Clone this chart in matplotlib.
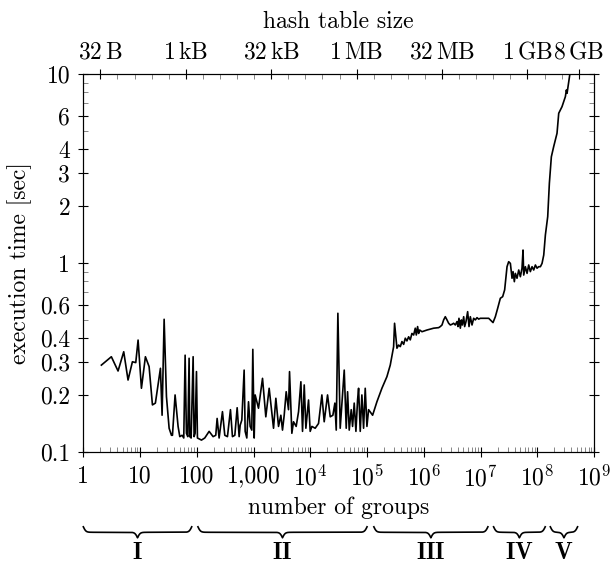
import matplotlib
matplotlib.use("Agg")
import matplotlib.pyplot as plt
import matplotlib.transforms as mtransforms
from matplotlib.ticker import FixedLocator, NullFormatter, LogLocator
import numpy as np

plt.rcParams['font.family'] = 'cmr10'
plt.rcParams['mathtext.fontset'] = 'cm'
plt.rcParams['axes.formatter.use_mathtext'] = True
plt.rcParams['font.size'] = 17

# measured curve: log10(number of groups) and execution time in seconds
log_groups = [
    0.318, 0.494, 0.612, 0.712, 0.788, 0.865, 0.924, 0.965, 1.024, 1.094,
    1.159, 1.218, 1.270, 1.359, 1.388, 1.424, 1.465, 1.512, 1.553, 1.571,
    1.617, 1.670, 1.700, 1.741, 1.770, 1.794, 1.817, 1.841, 1.864, 1.876,
    1.900, 1.935, 1.952, 1.970, 1.994, 2.011, 2.082, 2.140, 2.217, 2.287,
    2.334, 2.358, 2.393, 2.452, 2.493, 2.540, 2.593, 2.628, 2.670, 2.711,
    2.746, 2.764, 2.793, 2.834, 2.852, 2.881, 2.911, 2.940, 2.969, 2.987,
    3.011, 3.028, 3.087, 3.158, 3.216, 3.275, 3.352, 3.393, 3.440, 3.481,
    3.510, 3.540, 3.575, 3.616, 3.634, 3.675, 3.704, 3.751, 3.793, 3.834,
    3.863, 3.893, 3.922, 3.969, 3.998, 4.028, 4.086, 4.145, 4.204, 4.245,
    4.304, 4.351, 4.398, 4.433, 4.457, 4.486, 4.527, 4.557, 4.598, 4.633,
    4.657, 4.686, 4.721, 4.745, 4.774, 4.804, 4.833, 4.851, 4.880, 4.909,
    4.939, 4.968, 4.998, 5.027, 5.098, 5.174, 5.262, 5.350, 5.409, 5.468,
    5.485, 5.527, 5.556, 5.586, 5.615, 5.645, 5.674, 5.703, 5.733, 5.762,
    5.791, 5.821, 5.850, 5.868, 5.891, 5.909, 5.927, 5.968, 6.056, 6.174,
    6.262, 6.291, 6.321, 6.350, 6.379, 6.409, 6.438, 6.468, 6.497, 6.526,
    6.556, 6.585, 6.603, 6.620, 6.644, 6.662, 6.679, 6.703, 6.720, 6.744,
    6.773, 6.797, 6.820, 6.850, 6.879, 6.908, 6.938, 6.967, 6.997, 7.144,
    7.220, 7.261, 7.302, 7.349, 7.390, 7.425, 7.467, 7.496, 7.526, 7.555,
    7.573, 7.596, 7.614, 7.643, 7.673, 7.702, 7.731, 7.749, 7.761, 7.790,
    7.820, 7.849, 7.878, 7.908, 7.937, 7.967, 7.996, 8.025, 8.055, 8.084,
    8.114, 8.143, 8.184, 8.213, 8.248, 8.289, 8.348, 8.378, 8.407, 8.436,
    8.466, 8.495, 8.513, 8.525, 8.554, 8.572, 8.590,
]
exec_time = [
    0.289, 0.320, 0.269, 0.340, 0.241, 0.301, 0.298, 0.392, 0.218, 0.320,
    0.284, 0.178, 0.182, 0.278, 0.157, 0.505, 0.197, 0.134, 0.123, 0.123,
    0.201, 0.137, 0.121, 0.123, 0.119, 0.326, 0.126, 0.121, 0.314, 0.121,
    0.119, 0.320, 0.121, 0.126, 0.267, 0.119, 0.116, 0.119, 0.129, 0.121,
    0.123, 0.151, 0.119, 0.164, 0.123, 0.121, 0.168, 0.121, 0.123, 0.172,
    0.121, 0.139, 0.148, 0.272, 0.129, 0.119, 0.185, 0.137, 0.131, 0.350,
    0.119, 0.201, 0.171, 0.246, 0.154, 0.218, 0.134, 0.193, 0.137, 0.157,
    0.131, 0.157, 0.209, 0.168, 0.267, 0.126, 0.145, 0.137, 0.164, 0.236,
    0.129, 0.227, 0.134, 0.189, 0.129, 0.137, 0.134, 0.142, 0.201, 0.145,
    0.201, 0.154, 0.157, 0.182, 0.131, 0.543, 0.134, 0.182, 0.272, 0.134,
    0.209, 0.131, 0.168, 0.137, 0.182, 0.129, 0.189, 0.218, 0.129, 0.201,
    0.134, 0.218, 0.137, 0.168, 0.157, 0.185, 0.218, 0.251, 0.289, 0.361,
    0.481, 0.355, 0.369, 0.362, 0.385, 0.372, 0.401, 0.388, 0.408, 0.393,
    0.425, 0.417, 0.453, 0.417, 0.462, 0.425, 0.443, 0.434, 0.443, 0.453,
    0.456, 0.462, 0.471, 0.501, 0.521, 0.501, 0.481, 0.471, 0.475, 0.481,
    0.471, 0.491, 0.462, 0.511, 0.453, 0.501, 0.471, 0.521, 0.462, 0.491,
    0.554, 0.462, 0.521, 0.471, 0.511, 0.501, 0.515, 0.506, 0.511, 0.511,
    0.485, 0.521, 0.577, 0.652, 0.665, 0.722, 0.958, 1.018, 0.997, 0.832,
    0.902, 0.798, 0.883, 0.832, 0.920, 0.848, 0.940, 1.173, 0.865, 0.958,
    0.883, 0.978, 0.902, 0.958, 0.920, 0.978, 0.940, 0.958, 0.958, 0.997,
    1.104, 1.41, 1.762, 2.64, 3.65, 4.13, 4.86, 6.20, 6.45, 6.72,
    7.14, 7.59, 8.23, 7.91, 9.10, 9.88, 10.5,
]

x_ticks = [1, 10, 100, 1000, 1e4, 1e5, 1e6, 1e7, 1e8, 1e9]
x_ticklabels = ['1', '10', '100', '1,000', r'$10^{4}$', r'$10^{5}$',
                r'$10^{6}$', r'$10^{7}$', r'$10^{8}$', r'$10^{9}$']
y_ticks = [0.1, 0.2, 0.3, 0.4, 0.6, 1, 2, 3, 4, 6, 10]
y_ticklabels = ['0.1', '0.2', '0.3', '0.4', '0.6', '1', '2', '3', '4', '6', '10']
y_minor = [0.5, 0.7, 0.8, 0.9, 5, 7, 8, 9]

bytes_per_group = 16
hash_bytes = [32, 2**10, 2**15, 2**20, 2**25, 2**30, 2**33]
hash_labels = [r'$32\,\mathrm{B}$', r'$1\,\mathrm{kB}$', r'$32\,\mathrm{kB}$',
               r'$1\,\mathrm{MB}$', r'$32\,\mathrm{MB}$', r'$1\,\mathrm{GB}$',
               r'$8\,\mathrm{GB}$']

# phases (log10 of number of groups)
phase_names = ['I', 'II', 'III', 'IV', 'V']
phase_lo = [0.0, 2.02, 5.12, 7.23, 8.23]
phase_hi = [1.91, 5.00, 7.13, 8.14, 8.71]

fig = plt.figure(figsize=(6.1, 5.65), dpi=100)
ax = fig.add_axes([0.1366, 0.1995, 0.8372, 0.6695])

groups = 10 ** np.array(log_groups)
ax.plot(groups, exec_time, color='black', lw=1.2)

ax.set_xscale('log')
ax.set_yscale('log')
ax.set_xlim(1, 1e9)
ax.set_ylim(0.1, 10)

ax.xaxis.set_major_locator(FixedLocator(x_ticks))
ax.set_xticklabels(x_ticklabels)
ax.xaxis.set_minor_locator(LogLocator(base=10, subs=np.arange(2, 10), numticks=20))
ax.xaxis.set_minor_formatter(NullFormatter())
ax.yaxis.set_major_locator(FixedLocator(y_ticks))
ax.set_yticklabels(y_ticklabels)
ax.yaxis.set_minor_locator(FixedLocator(y_minor))
ax.yaxis.set_minor_formatter(NullFormatter())

ax.tick_params(which='major', direction='inout', length=7, width=0.8, pad=6)
ax.tick_params(which='minor', direction='in', length=3.5, width=0.6, color='0.45')
ax.tick_params(axis='y', which='both', right=True)
for s in ax.spines.values():
    s.set_linewidth(0.8)

ax.set_xlabel('number of groups', labelpad=4)
ax.set_ylabel('execution time [sec]', labelpad=6)

# top axis: hash table size
top = ax.twiny()
top.set_xscale('log')
top.set_xlim(ax.get_xlim())
top.xaxis.set_major_locator(FixedLocator([b / bytes_per_group for b in hash_bytes]))
top.set_xticklabels(hash_labels)
top.xaxis.set_minor_locator(FixedLocator([2.0**k / bytes_per_group for k in range(5, 34)]))
top.xaxis.set_minor_formatter(NullFormatter())
top.tick_params(which='major', direction='inout', length=7, width=0.8, pad=4)
top.tick_params(which='minor', direction='in', length=3.5, width=0.6, color='0.45')
top.set_xlabel('hash table size', labelpad=10)

# curly braces for the phases
blend = mtransforms.blended_transform_factory(ax.transData, ax.transAxes)
y_top = -0.197
depth = 0.029
for name, lo, hi in zip(phase_names, phase_lo, phase_hi):
    span = hi - lo
    beta = 44 * span
    t = np.linspace(0, 1, 401)
    half = t[:201]
    yh = (1 / (1 + np.exp(-beta * (half - half[0])))
          + 1 / (1 + np.exp(-beta * (half - half[-1]))))
    yb = np.concatenate([yh, yh[-2::-1]])
    xs = 10 ** (lo + t * span)
    ys = y_top - (yb - 0.5) * depth
    ax.plot(xs, ys, transform=blend, clip_on=False, color='black', lw=1.2)
    ax.text(10 ** (lo + span / 2), -0.266, r'$\mathbf{' + name + '}$',
            transform=blend, ha='center', va='center', fontsize=17)

fig.savefig('out.png', dpi=100)
